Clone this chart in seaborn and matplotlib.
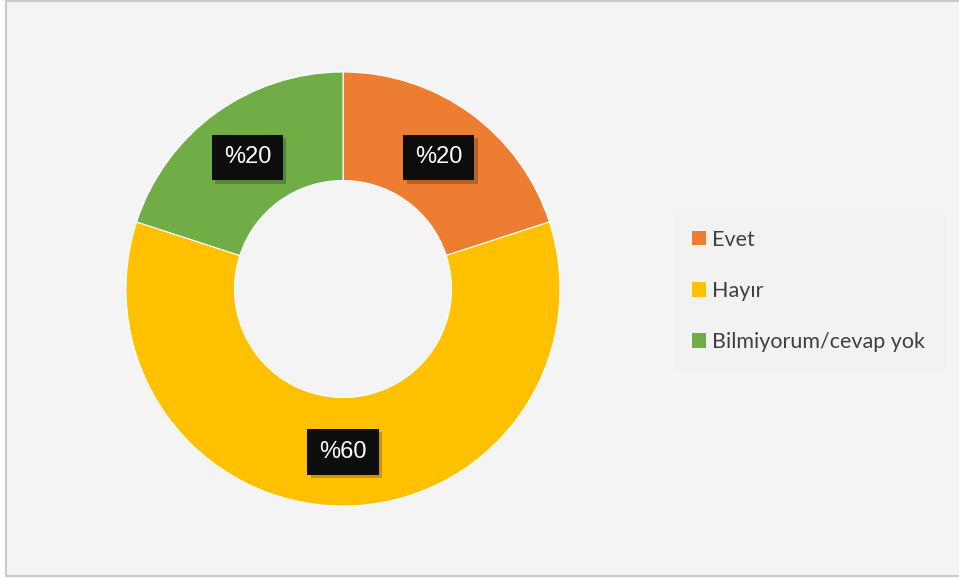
import matplotlib
matplotlib.use("Agg")
import matplotlib.pyplot as plt
import matplotlib.patches as mpatches
import matplotlib.patheffects as pe
import numpy as np
import seaborn as sns

categories = ["Evet", "Hayır", "Bilmiyorum/cevap yok"]
values = [20, 60, 20]
labels = ["%20", "%60", "%20"]
colors = ["#ED7D31", "#FFC000", "#70AD47"]

sns.set_theme(style="white")
plt.rcParams["font.family"] = ["Lato", "DejaVu Sans"]

W, H = 959, 578
fig = plt.figure(figsize=(W / 100, H / 100), dpi=100, facecolor="white")

# chart area background with border
bg = mpatches.Rectangle((6 / W, 1 - 576 / H), 1.0, 575 / H, transform=fig.transFigure,
                        facecolor="#F4F4F4", edgecolor="#C9C9C9", linewidth=1.5, zorder=-10)
fig.patches.append(bg)

cx, cy, r = 343, 289, 217
ax = fig.add_axes([(cx - r) / W, (H - cy - r) / H, 2 * r / W, 2 * r / H])
ax.set_facecolor("none")
ax.set_zorder(1)
pal = sns.color_palette(colors)
wedges, _ = ax.pie(values, colors=pal, startangle=90, counterclock=False, radius=1,
                   wedgeprops=dict(width=0.5, edgecolor="white", linewidth=0.8))
ax.set_xlim(-1, 1)
ax.set_ylim(-1, 1)
ax.set_aspect("equal")
ax.axis("off")

total = sum(values)
start = 90.0
mid_r = 0.75
for v, lab in zip(values, labels):
    ang = start - v / total * 360 / 2
    start -= v / total * 360
    x = mid_r * np.cos(np.radians(ang))
    y = mid_r * np.sin(np.radians(ang))
    t = ax.text(x, y, lab, ha="center", va="center", color="white", fontsize=17,
                family=["Liberation Sans", "DejaVu Sans"],
                bbox=dict(boxstyle="square,pad=0.5", facecolor="#0D0D0D", edgecolor="none"))
    t.get_bbox_patch().set_path_effects([pe.SimplePatchShadow(offset=(2.5, -2.5), alpha=0.22), pe.Normal()])

handles = [mpatches.Patch(facecolor=c, edgecolor="none") for c in colors]
leg = fig.legend(handles, categories, loc="center left", bbox_to_anchor=(679 / W, 1 - 291 / H),
                 frameon=True, fontsize=15.5, labelspacing=1.45, handlelength=0.65, handleheight=0.65,
                 handletextpad=0.3, borderpad=0.6, borderaxespad=0)
leg.set_zorder(2)
leg.get_frame().set_facecolor("#F2F2F2")
leg.get_frame().set_edgecolor("none")
leg.get_frame().set_boxstyle("square")
for txt in leg.get_texts():
    txt.set_color("#404040")

fig.savefig("out.png", dpi=100, facecolor="white")
